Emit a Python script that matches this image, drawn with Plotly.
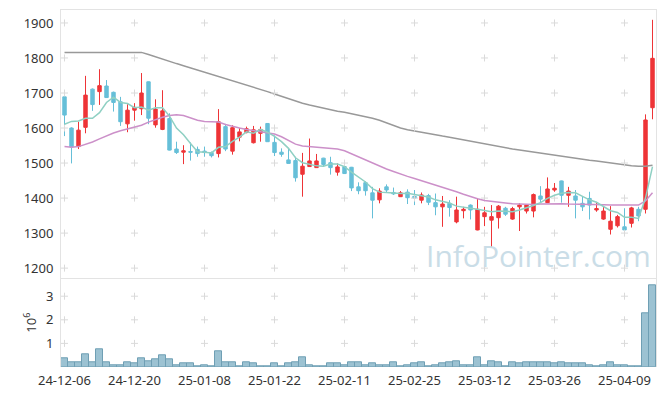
import plotly.graph_objects as go

dates = [
    "24-12-06", "24-12-09", "24-12-10", "24-12-11", "24-12-12", "24-12-13", "24-12-16", "24-12-17",
    "24-12-18", "24-12-19", "24-12-20", "24-12-23", "24-12-24", "24-12-26", "24-12-27", "24-12-30",
    "25-01-02", "25-01-03", "25-01-06", "25-01-07", "25-01-08", "25-01-09", "25-01-10", "25-01-13",
    "25-01-14", "25-01-15", "25-01-16", "25-01-17", "25-01-20", "25-01-21", "25-01-22", "25-01-23",
    "25-01-24", "25-01-31", "25-02-03", "25-02-04", "25-02-05", "25-02-06", "25-02-07", "25-02-10",
    "25-02-11", "25-02-12", "25-02-13", "25-02-14", "25-02-17", "25-02-18", "25-02-19", "25-02-20",
    "25-02-21", "25-02-24", "25-02-25", "25-02-26", "25-02-27", "25-02-28", "25-03-04", "25-03-05",
    "25-03-06", "25-03-07", "25-03-10", "25-03-11", "25-03-12", "25-03-13", "25-03-14", "25-03-17",
    "25-03-18", "25-03-19", "25-03-20", "25-03-21", "25-03-24", "25-03-25", "25-03-26", "25-03-27",
    "25-03-28", "25-03-31", "25-04-01", "25-04-02", "25-04-03", "25-04-04", "25-04-07", "25-04-08",
    "25-04-09", "25-04-10", "25-04-11", "25-04-14", "25-04-15",
]

open_p = [1689, 1600, 1547, 1602, 1711, 1704, 1720, 1702, 1675, 1612, 1651, 1655, 1732, 1609, 1596, 1627,
          1540, 1531, 1533, 1539, 1534, 1530, 1527, 1604, 1534, 1574, 1587, 1558, 1585, 1613, 1559, 1531,
          1509, 1507, 1468, 1490, 1487, 1514, 1501, 1474, 1490, 1488, 1432, 1444, 1415, 1395, 1432, 1416,
          1404, 1417, 1405, 1394, 1407, 1387, 1375, 1385, 1332, 1364, 1380, 1309, 1347, 1337, 1344, 1371,
          1340, 1375, 1363, 1363, 1406, 1387, 1423, 1449, 1408, 1406, 1385, 1399, 1366, 1340, 1311, 1321,
          1318, 1328, 1368, 1368, 1658]
high_p = [1691, 1602, 1618, 1749, 1713, 1768, 1737, 1704, 1689, 1668, 1671, 1757, 1733, 1682, 1708, 1642,
          1561, 1551, 1559, 1547, 1547, 1533, 1654, 1612, 1608, 1600, 1604, 1606, 1604, 1614, 1579, 1542,
          1541, 1518, 1529, 1570, 1526, 1515, 1518, 1499, 1502, 1489, 1445, 1448, 1432, 1428, 1439, 1430,
          1420, 1425, 1423, 1416, 1412, 1413, 1406, 1394, 1404, 1375, 1382, 1399, 1375, 1380, 1380, 1375,
          1375, 1385, 1381, 1413, 1434, 1459, 1443, 1450, 1432, 1423, 1406, 1418, 1389, 1377, 1377, 1352,
          1371, 1375, 1375, 1639, 1909]
low_p = [1577, 1499, 1540, 1585, 1649, 1666, 1686, 1647, 1606, 1588, 1621, 1637, 1611, 1601, 1594, 1536,
         1526, 1497, 1507, 1518, 1518, 1516, 1516, 1534, 1524, 1562, 1585, 1556, 1561, 1561, 1520, 1518,
         1499, 1447, 1404, 1490, 1487, 1490, 1467, 1464, 1469, 1420, 1411, 1407, 1342, 1385, 1415, 1409,
         1403, 1383, 1380, 1385, 1380, 1351, 1318, 1347, 1328, 1342, 1339, 1308, 1320, 1259, 1313, 1349,
         1338, 1306, 1356, 1345, 1387, 1386, 1418, 1387, 1375, 1342, 1363, 1339, 1361, 1338, 1296, 1316,
         1309, 1316, 1334, 1356, 1625]
close_p = [1637, 1546, 1594, 1694, 1667, 1721, 1687, 1673, 1618, 1651, 1659, 1700, 1628, 1654, 1649, 1537,
           1530, 1535, 1531, 1527, 1530, 1521, 1618, 1540, 1601, 1589, 1598, 1595, 1596, 1561, 1530, 1525,
           1499, 1458, 1491, 1506, 1506, 1496, 1487, 1489, 1470, 1429, 1421, 1421, 1394, 1420, 1423, 1412,
           1415, 1401, 1400, 1409, 1388, 1375, 1383, 1373, 1366, 1368, 1366, 1368, 1358, 1347, 1377, 1354,
           1370, 1380, 1380, 1410, 1397, 1426, 1428, 1408, 1420, 1394, 1375, 1380, 1370, 1363, 1334, 1347,
           1309, 1372, 1349, 1623, 1799]

ma5 = [1611, 1619, 1620, 1628, 1628, 1644, 1673, 1688, 1673, 1670, 1658, 1660, 1651, 1658, 1658, 1634,
       1600, 1581, 1556, 1532, 1531, 1529, 1545, 1547, 1562, 1574, 1589, 1585, 1596, 1588, 1576, 1561,
       1542, 1515, 1501, 1496, 1492, 1491, 1497, 1497, 1490, 1474, 1459, 1446, 1427, 1417, 1416, 1414,
       1413, 1414, 1410, 1407, 1403, 1395, 1391, 1386, 1377, 1373, 1371, 1368, 1365, 1361, 1363, 1361,
       1361, 1366, 1372, 1379, 1387, 1399, 1408, 1414, 1416, 1415, 1405, 1395, 1388, 1376, 1364, 1359,
       1345, 1345, 1342, 1400, 1490]
ma20 = [1547, 1545, 1547, 1553, 1560, 1569, 1578, 1586, 1592, 1597, 1602, 1608, 1617, 1625, 1631, 1636,
        1638, 1636, 1628, 1622, 1619, 1618, 1617, 1610, 1604, 1600, 1596, 1593, 1591, 1588, 1583, 1575,
        1565, 1554, 1549, 1547, 1546, 1545, 1543, 1540, 1535, 1526, 1517, 1509, 1500, 1491, 1483, 1476,
        1468, 1462, 1456, 1450, 1443, 1437, 1431, 1424, 1418, 1411, 1404, 1398, 1393, 1390, 1388, 1386,
        1384, 1383, 1382, 1382, 1383, 1384, 1384, 1384, 1383, 1383, 1383, 1383, 1382, 1381, 1380, 1380,
        1380, 1380, 1380, 1392, 1415]
ma60 = [1816, 1816, 1816, 1817, 1817, 1817, 1818, 1818, 1818, 1818, 1818, 1816, 1810, 1803, 1796, 1790,
        1784, 1778, 1772, 1766, 1760, 1754, 1748, 1742, 1735, 1728, 1722, 1716, 1710, 1704, 1697, 1690,
        1683, 1676, 1671, 1666, 1661, 1656, 1651, 1648, 1645, 1641, 1637, 1632, 1628, 1622, 1614, 1607,
        1600, 1595, 1591, 1587, 1584, 1580, 1577, 1574, 1570, 1566, 1562, 1558, 1554, 1551, 1547, 1544,
        1540, 1537, 1534, 1531, 1528, 1524, 1521, 1518, 1516, 1513, 1511, 1508, 1506, 1503, 1501, 1499,
        1496, 1492, 1491, 1491, 1494]

volume_m = [0.35, 0.22, 0.18, 0.52, 0.18, 0.73, 0.22, 0.09, 0.09, 0.18, 0.14, 0.39, 0.26, 0.31, 0.48, 0.31,
            0.09, 0.14, 0.14, 0.05, 0.09, 0.05, 0.65, 0.22, 0.18, 0.05, 0.18, 0.14, 0.05, 0.05, 0.14, 0.05,
            0.14, 0.18, 0.40, 0.09, 0.05, 0.05, 0.14, 0.14, 0.09, 0.22, 0.18, 0.09, 0.14, 0.09, 0.09, 0.18,
            0.05, 0.09, 0.14, 0.18, 0.05, 0.09, 0.14, 0.18, 0.26, 0.09, 0.09, 0.40, 0.09, 0.26, 0.22, 0.05,
            0.18, 0.14, 0.18, 0.18, 0.18, 0.22, 0.14, 0.22, 0.14, 0.14, 0.14, 0.09, 0.05, 0.09, 0.18, 0.09,
            0.09, 0.05, 0.05, 2.28, 3.47]

price_ticks = [1200, 1300, 1400, 1500, 1600, 1700, 1800, 1900]
volume_ticks = [1, 2, 3]
x_ticks = dates[::10]

RED = "#ee3437"
BLUE = "#66bfd8"
GRID = "#dadada"
AXIS = "#e3e3e3"
FONT = "Noto Sans"

fig = go.Figure()

fig.add_trace(go.Scatter(x=dates, y=ma60, mode="lines", line=dict(color="#999999", width=1.5),
                         hoverinfo="skip", showlegend=False, xaxis="x", yaxis="y"))

# grid crosses
fig.add_trace(go.Scatter(
    x=[d for d in x_ticks for _ in price_ticks], y=[p for _ in x_ticks for p in price_ticks],
    mode="markers", marker=dict(symbol="cross-thin", size=5, line=dict(width=1, color=GRID)),
    hoverinfo="skip", showlegend=False, xaxis="x", yaxis="y"))

fig.add_trace(go.Scatter(x=dates, y=ma20, mode="lines", line=dict(color="#cc90c9", width=1.5),
                         showlegend=False, xaxis="x", yaxis="y"))

fig.add_trace(go.Candlestick(
    x=dates, open=open_p, high=high_p, low=low_p, close=close_p,
    increasing=dict(line=dict(color=RED, width=1), fillcolor=RED),
    decreasing=dict(line=dict(color=BLUE, width=1), fillcolor=BLUE),
    whiskerwidth=0, showlegend=False, xaxis="x", yaxis="y"))

fig.add_trace(go.Scatter(x=dates, y=ma5, mode="lines", line=dict(color="#8fd0c3", width=1.5),
                         showlegend=False, xaxis="x", yaxis="y"))

fig.add_trace(go.Bar(x=dates, y=volume_m, marker=dict(color="#9cc2d2", line=dict(color="#6f9fb4", width=1)),
                     showlegend=False, xaxis="x2", yaxis="y2"))

fig.add_trace(go.Scatter(
    x=[d for d in x_ticks for _ in volume_ticks], y=[v for _ in x_ticks for v in volume_ticks],
    mode="markers", marker=dict(symbol="cross-thin", size=5, line=dict(width=1, color=GRID)),
    hoverinfo="skip", showlegend=False, xaxis="x2", yaxis="y2"))

split = 0.2485
xcommon = dict(type="category", categoryorder="array", categoryarray=dates, range=[-0.5, 84.5],
               showgrid=False, zeroline=False, automargin=False, fixedrange=True)
fig.update_layout(
    width=665, height=396,
    margin=dict(l=61, r=9, t=10, b=29),
    paper_bgcolor="white", plot_bgcolor="white",
    font=dict(family=FONT, size=13, color="#333333"),
    showlegend=False, bargap=0,
    xaxis=dict(domain=[0, 1], anchor="y", showticklabels=False,
               showline=True, linecolor=AXIS, linewidth=1, mirror=True,
               rangeslider=dict(visible=False), **xcommon),
    yaxis=dict(domain=[split, 1], anchor="x", range=[1171, 1937], tickvals=price_ticks,
               showgrid=False, zeroline=False, showline=True, linecolor=AXIS, mirror=True,
               automargin=False, ticks="outside", ticklen=4, tickcolor="rgba(0,0,0,0)"),
    xaxis2=dict(domain=[0, 1], anchor="y2", matches="x", tickvals=x_ticks, tickangle=0,
                showline=False, ticks="outside", ticklen=1, tickcolor="rgba(0,0,0,0)", **xcommon),
    yaxis2=dict(domain=[0, split], anchor="x2", range=[0, 3.76], tickvals=volume_ticks,
                showgrid=False, zeroline=False, showline=True, linecolor=AXIS, mirror=True,
                automargin=False, ticks="outside", ticklen=4, tickcolor="rgba(0,0,0,0)",
                title=dict(text="10<sup>6</sup>", standoff=6, font=dict(size=13))),
    annotations=[dict(text="InfoPointer.com", xref="paper", yref="paper", x=0.802, y=0.311,
                      xanchor="center", yanchor="middle",
                      showarrow=False, font=dict(family="Open Sans", size=30, color="#cadde7"))],
)

fig.write_html("out.html", config={"displayModeBar": False},
               post_script="document.body.style.margin='0';document.body.style.overflow='hidden';")
